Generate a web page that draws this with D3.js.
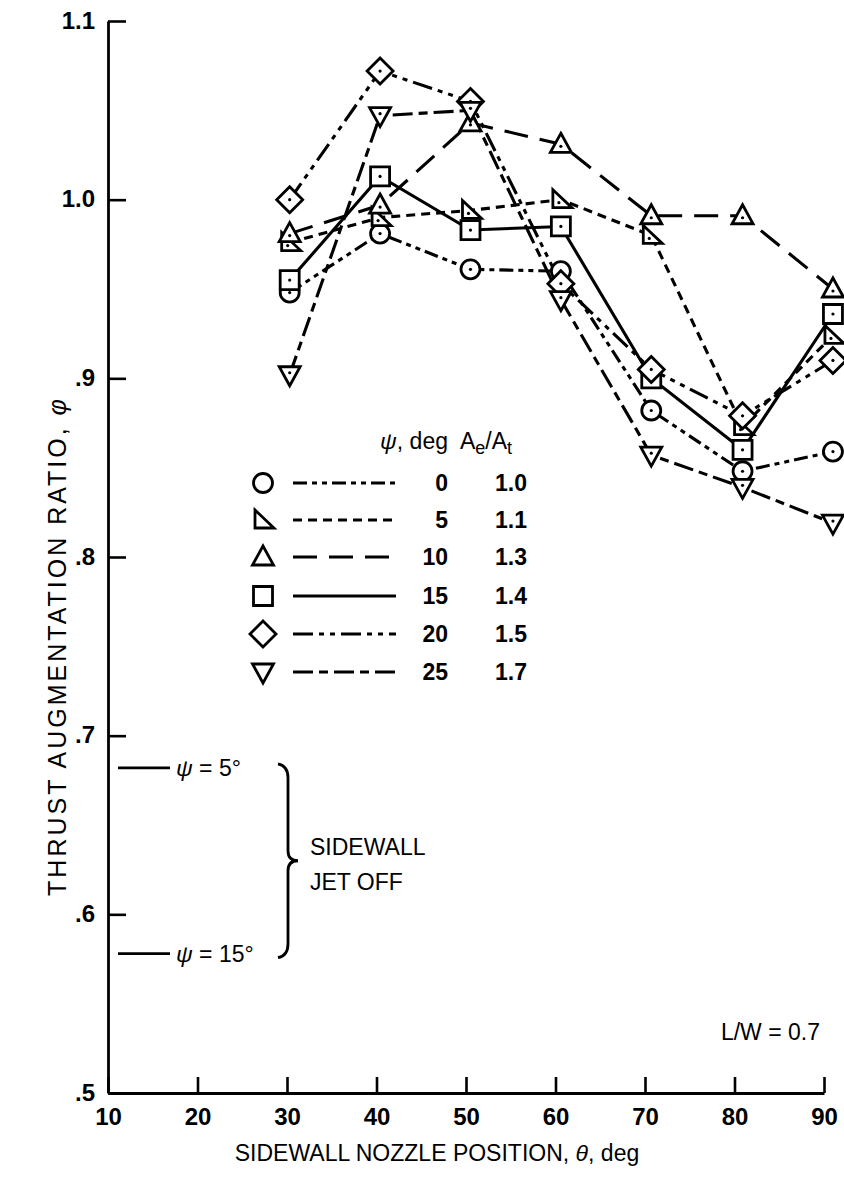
<!DOCTYPE html>
<html><head><meta charset="utf-8">
<script src="https://cdn.jsdelivr.net/npm/d3@7"></script>
<style>
html,body{margin:0;padding:0;background:#fff;}
svg text{font-family:"Liberation Sans",Arial,Helvetica,sans-serif;fill:#000;}
</style></head>
<body>
<svg id="chart" width="844" height="1177"></svg>
<script>
// ---- data ----
const thetaPos = [30.3, 40.4, 50.5, 60.6, 70.7, 80.9, 91.0];
const psi0  = [0.948, 0.981, 0.961, 0.960, 0.882, 0.848, 0.859];
const psi5  = [0.976, 0.990, 0.994, 1.000, 0.980, 0.873, 0.924];
const psi10 = [0.981, 0.997, 1.043, 1.031, 0.991, 0.991, 0.950];
const psi15 = [0.955, 1.013, 0.983, 0.985, 0.900, 0.860, 0.936];
const psi20 = [1.000, 1.072, 1.055, 0.953, 0.905, 0.879, 0.910];
const psi25 = [0.902, 1.047, 1.050, 0.944, 0.857, 0.839, 0.819];
const psiLabels = ["0","5","10","15","20","25"];
const areaRatios = ["1.0","1.1","1.3","1.4","1.5","1.7"];
const xTicks = [10,20,30,40,50,60,70,80,90];
const yTicks = [0.5,0.6,0.7,0.8,0.9,1.0,1.1];
const yTickLabels = [".5",".6",".7",".8",".9","1.0","1.1"];
const jetOff = [0.682, 0.578]; // psi = 5, 15 with sidewall jet off
const jetOffLabels = ["5°","15°"];

const series = [
  {vals: psi0,  sym: "circle",  dash: "14,5,5,5,5,5"},
  {vals: psi5,  sym: "rtri",    dash: "9,6"},
  {vals: psi10, sym: "tri",     dash: "24,12"},
  {vals: psi15, sym: "square",  dash: null},
  {vals: psi20, sym: "diamond", dash: "20,6,5,6,5,6"},
  {vals: psi25, sym: "itri",    dash: "20,6,9,6"}
];

const svg = d3.select("#chart");
const x = d3.scaleLinear().domain([10,90]).range([108,824]);
const y = d3.scaleLinear().domain([0.5,1.1]).range([1093,21]);

// ---- axes ----
const yAxis = d3.axisLeft(y).tickValues(yTicks)
  .tickFormat((d,i)=>yTickLabels[i]).tickSizeInner(-18).tickSizeOuter(0);
const gy = svg.append("g").attr("transform",`translate(${x(10)},0)`).call(yAxis);
gy.select(".domain").attr("stroke","#000").attr("stroke-width",2.8);
gy.selectAll(".tick line").attr("stroke","#000").attr("stroke-width",2.6);
gy.selectAll(".tick text").attr("font-size",24).attr("font-weight","bold").attr("x",-13).attr("dy","0.3em");

const xAxis = d3.axisBottom(x).tickValues(xTicks).tickSizeInner(-16).tickSizeOuter(0);
const gx = svg.append("g").attr("transform",`translate(0,${y(0.5)})`).call(xAxis);
gx.select(".domain").attr("stroke","#000").attr("stroke-width",2.8);
gx.selectAll(".tick line").attr("stroke","#000").attr("stroke-width",2.6);
gx.selectAll(".tick text").attr("font-size",24).attr("font-weight","bold").attr("y",14).attr("dy","0.75em");

svg.append("text").attr("x",437).attr("y",1161).attr("text-anchor","middle")
  .attr("font-size",23).html('SIDEWALL NOZZLE POSITION, <tspan font-style="italic">θ</tspan>, deg');
svg.append("text").attr("transform","translate(66,646) rotate(-90)").attr("text-anchor","middle")
  .attr("font-size",25).attr("letter-spacing",3)
  .html('THRUST AUGMENTATION RATIO, <tspan font-style="italic">φ</tspan>');

// ---- symbols ----
function symPath(t){
  switch(t){
    case "square": return "M-9.5,-9.5H9.5V9.5H-9.5Z";
    case "diamond": return "M0,-13L13,0L0,13L-13,0Z";
    case "tri": return "M0,-11L10.5,8L-10.5,8Z";
    case "itri": return "M0,11L10.5,-8L-10.5,-8Z";
    case "rtri": return "M-8,-10L-8,8L11,8Z";
  }
  return null;
}
function drawSym(g, t, cx, cy, dot){
  if(t==="circle"){
    g.append("circle").attr("cx",cx).attr("cy",cy).attr("r",9.5)
      .attr("fill","#fff").attr("stroke","#000").attr("stroke-width",2.8);
  } else {
    g.append("path").attr("d",symPath(t)).attr("transform",`translate(${cx},${cy})`)
      .attr("fill","#fff").attr("stroke","#000").attr("stroke-width",2.8).attr("stroke-linejoin","miter");
  }
  if(dot){
    let dy = 0;
    if(t==="tri") dy=2; if(t==="itri") dy=-2; if(t==="rtri"){ dy=3; }
    g.append("circle").attr("cx",cx+(t==="rtri"?-2:0)).attr("cy",cy+dy).attr("r",1.6).attr("fill","#000");
  }
}

// ---- lines ----
const line = d3.line().x((d,i)=>x(thetaPos[i])).y(d=>y(d));
const gl = svg.append("g");
series.forEach(s=>{
  gl.append("path").datum(s.vals).attr("d",line).attr("fill","none")
    .attr("stroke","#000").attr("stroke-width",3.1)
    .attr("stroke-dasharray",s.dash);
});
const gm = svg.append("g");
series.forEach(s=>{
  s.vals.forEach((v,i)=>drawSym(gm, s.sym, x(thetaPos[i]), y(v), true));
});

// ---- legend ----
const lg = svg.append("g");
lg.append("text").attr("x",448).attr("y",449).attr("text-anchor","end").attr("font-size",23)
  .html('<tspan font-style="italic">ψ</tspan>, deg');
lg.append("text").attr("x",460).attr("y",449).attr("font-size",23)
  .html('A<tspan font-size="18" dy="5">e</tspan><tspan dy="-5">/A</tspan><tspan font-size="18" dy="5">t</tspan>');
const rowY = [483,520,557,596,634,672];
series.forEach((s,i)=>{
  drawSym(lg, s.sym, 263, rowY[i], false);
  lg.append("line").attr("x1",293).attr("x2",396).attr("y1",rowY[i]).attr("y2",rowY[i])
    .attr("stroke","#000").attr("stroke-width",3).attr("stroke-dasharray",s.dash);
  lg.append("text").attr("x",448).attr("y",rowY[i]+8).attr("text-anchor","end")
    .attr("font-size",23).attr("font-weight","bold").text(psiLabels[i]);
  lg.append("text").attr("x",511).attr("y",rowY[i]+8).attr("text-anchor","middle")
    .attr("font-size",23).attr("font-weight","bold").text(areaRatios[i]);
});

// ---- sidewall jet off annotation ----
const ga = svg.append("g");
jetOff.forEach((v,i)=>{
  ga.append("line").attr("x1",118).attr("x2",170).attr("y1",y(v)).attr("y2",y(v))
    .attr("stroke","#000").attr("stroke-width",2.6);
  ga.append("text").attr("x",176).attr("y",y(v)+8).attr("font-size",23)
    .html('<tspan font-style="italic">ψ</tspan> = ' + jetOffLabels[i]);
});
const by0 = y(jetOff[0]), by1 = y(jetOff[1]), bm = (by0+by1)/2;
const bx = 284;
ga.append("path").attr("fill","none").attr("stroke","#000").attr("stroke-width",2.8)
  .attr("d",`M${bx-6},${by0-4} Q${bx+4},${by0-2} ${bx+4},${by0+10} L${bx+4},${bm-10} Q${bx+4},${bm} ${bx+14},${bm} Q${bx+4},${bm} ${bx+4},${bm+10} L${bx+4},${by1-10} Q${bx+4},${by1+2} ${bx-6},${by1+4}`);
ga.append("text").attr("x",310).attr("y",bm-6).attr("font-size",23).text("SIDEWALL");
ga.append("text").attr("x",310).attr("y",bm+29).attr("font-size",23).text("JET OFF");

svg.append("text").attr("x",820).attr("y",1040).attr("text-anchor","end").attr("font-size",23).text("L/W = 0.7");
</script>
</body></html>
